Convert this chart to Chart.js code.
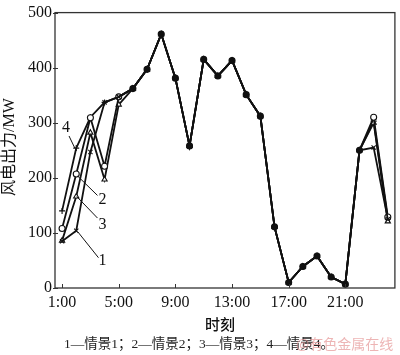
<!DOCTYPE html>
<html>
<head>
<meta charset="utf-8">
<script src="https://cdn.jsdelivr.net/npm/chart.js@4.4.1/dist/chart.umd.min.js"></script>
<style>
html,body{margin:0;padding:0;background:#fff;}
#wrap{width:400px;height:355px;position:relative;}
</style>
</head>
<body>
<div id="wrap"><canvas id="c" width="400" height="355"></canvas></div>
<script>
// ---- data ----
const hours = [1,2,3,4,5,6,7,8,9,10,11,12,13,14,15,16,17,18,19,20,21,22,23,24];
const scenario1 = [85,104,247,337,347,362,397,461,381,258,415,385,413,351,312,111,10,39,58,20,7,250,255,125];
const scenario2 = [108,207,309,221,347,362,397,461,381,258,415,385,413,351,312,111,10,39,58,20,7,250,310,129];
const scenario3 = [86,166,282,197,333,362,397,461,381,258,415,385,413,351,312,111,10,39,58,20,7,250,300,121];
const scenario4 = [140,254,310,337,347,362,397,461,381,258,415,385,413,351,312,111,10,39,58,20,7,250,303,125];
const xTickValues = [1,5,9,13,17,21];
const xTickLabels = ['1:00','5:00','9:00','13:00','17:00','21:00'];
const yTickValues = [0,100,200,300,400,500];
const seriesNames = ['1','2','3','4'];
const xTitle = '时刻';
const yTitle = '风电出力/MW';
const caption = '1—情景1；2—情景2；3—情景3；4—情景4。';
const watermark = '@有色金属在线';

// callout annotations (data coordinates)
const callouts = [
  {label:'4', tx:1.28, ty:291, x1:1.49, y1:276, x2:1.90, y2:254},
  {label:'2', tx:3.85, ty:161, x1:3.50, y1:168, x2:2.11, y2:203},
  {label:'3', tx:3.85, ty:115, x1:3.50, y1:127, x2:2.04, y2:166},
  {label:'1', tx:3.85, ty:49,  x1:3.57, y1:55,  x2:2.11, y2:102}
];

const allSeries = [scenario1, scenario2, scenario3, scenario4];
const toPts = arr => hours.map((h,i)=>({x:h,y:arr[i]}));
const shared = i => allSeries.every(s => s[i] === allSeries[0][i]);

Chart.defaults.font.family = '"Liberation Serif", "Times New Roman", serif';
Chart.defaults.font.size = 16;
Chart.defaults.color = '#111';

const decor = {
  id:'decor',
  afterDraw(chart){
    const ctx = chart.ctx, a = chart.chartArea;
    const xs = chart.scales.x, ys = chart.scales.y;
    ctx.save();
    ctx.strokeStyle = '#333';
    ctx.lineWidth = 1.3;
    ctx.strokeRect(a.left, a.top, a.right-a.left, a.bottom-a.top);
    ctx.lineWidth = 1;
    ctx.beginPath();
    xTickValues.forEach(v=>{
      const px = Math.round(xs.getPixelForValue(v))+0.5;
      ctx.moveTo(px, a.bottom); ctx.lineTo(px, a.bottom-4);
    });
    yTickValues.forEach(v=>{
      const py = Math.round(ys.getPixelForValue(v))+0.5;
      ctx.moveTo(a.left-2, py); ctx.lineTo(a.left+3, py);
    });
    ctx.stroke();
    ctx.strokeStyle = '#111';
    ctx.lineWidth = 1;
    ctx.fillStyle = '#111';
    ctx.font = '16px "Liberation Serif", serif';
    ctx.textAlign = 'center';
    ctx.textBaseline = 'middle';
    callouts.forEach(c=>{
      ctx.beginPath();
      ctx.moveTo(xs.getPixelForValue(c.x1), ys.getPixelForValue(c.y1));
      ctx.lineTo(xs.getPixelForValue(c.x2), ys.getPixelForValue(c.y2));
      ctx.stroke();
      ctx.fillText(c.label, xs.getPixelForValue(c.tx), ys.getPixelForValue(c.ty));
    });
    ctx.font = '500 15px "Noto Sans CJK SC", sans-serif';
    ctx.fillText(xTitle, (a.left+a.right)/2-5, 324);
    ctx.save();
    ctx.translate(10, 147);
    ctx.rotate(-Math.PI/2);
    ctx.font = '16px "Liberation Serif", "Noto Sans CJK SC", serif';
    ctx.fillText(yTitle, 0, 0);
    ctx.restore();
    ctx.textAlign = 'left';
    ctx.font = '13.5px "Liberation Serif", "Noto Sans CJK SC", serif';
    ctx.fillStyle = '#222';
    ctx.fillText(caption, 64, 344);
    ctx.font = '14px "Noto Sans CJK SC", sans-serif';
    ctx.fillStyle = 'rgba(230,150,150,0.7)';
    ctx.fillText(watermark, 296, 344);
    ctx.restore();
  }
};

const common = {
  borderColor:'#111', borderWidth:1.8, pointBorderColor:'#111',
  pointBorderWidth:1.1, pointRadius:3, tension:0, fill:false
};
const hollowFill = c => shared(c.dataIndex) ? '#111' : '#fff';

new Chart(document.getElementById('c'), {
  type:'line',
  data:{
    datasets:[
      Object.assign({label:seriesNames[0], data:toPts(scenario1), pointStyle:'crossRot', pointBackgroundColor:'#111'}, common),
      Object.assign({label:seriesNames[1], data:toPts(scenario2), pointStyle:'circle', pointBackgroundColor:hollowFill}, common),
      Object.assign({label:seriesNames[2], data:toPts(scenario3), pointStyle:'triangle', pointBackgroundColor:hollowFill}, common),
      Object.assign({label:seriesNames[3], data:toPts(scenario4), pointStyle:'cross', pointBackgroundColor:'#111'}, common)
    ]
  },
  options:{
    responsive:false, animation:false,
    layout:{padding:{top:5,right:1,left:0,bottom:0}},
    plugins:{legend:{display:false}, tooltip:{enabled:false}, title:{display:false}},
    scales:{
      x:{
        type:'linear', min:0.5, max:24.5,
        grid:{display:false, drawTicks:false}, border:{display:false},
        afterBuildTicks:s=>{ s.ticks = xTickValues.map(v=>({value:v})); },
        afterFit:s=>{ s.height = 67; },
        ticks:{autoSkip:false, maxRotation:0, padding:5,
          callback:(v)=>{ const i = xTickValues.indexOf(v); return i>=0 ? xTickLabels[i] : ''; }}
      },
      y:{
        min:0, max:500,
        grid:{display:false, drawTicks:false}, border:{display:false},
        afterBuildTicks:s=>{ s.ticks = yTickValues.map(v=>({value:v})); },
        afterFit:s=>{ s.width = 55; },
        ticks:{padding:3}
      }
    }
  },
  plugins:[decor]
});
</script>
</body>
</html>
